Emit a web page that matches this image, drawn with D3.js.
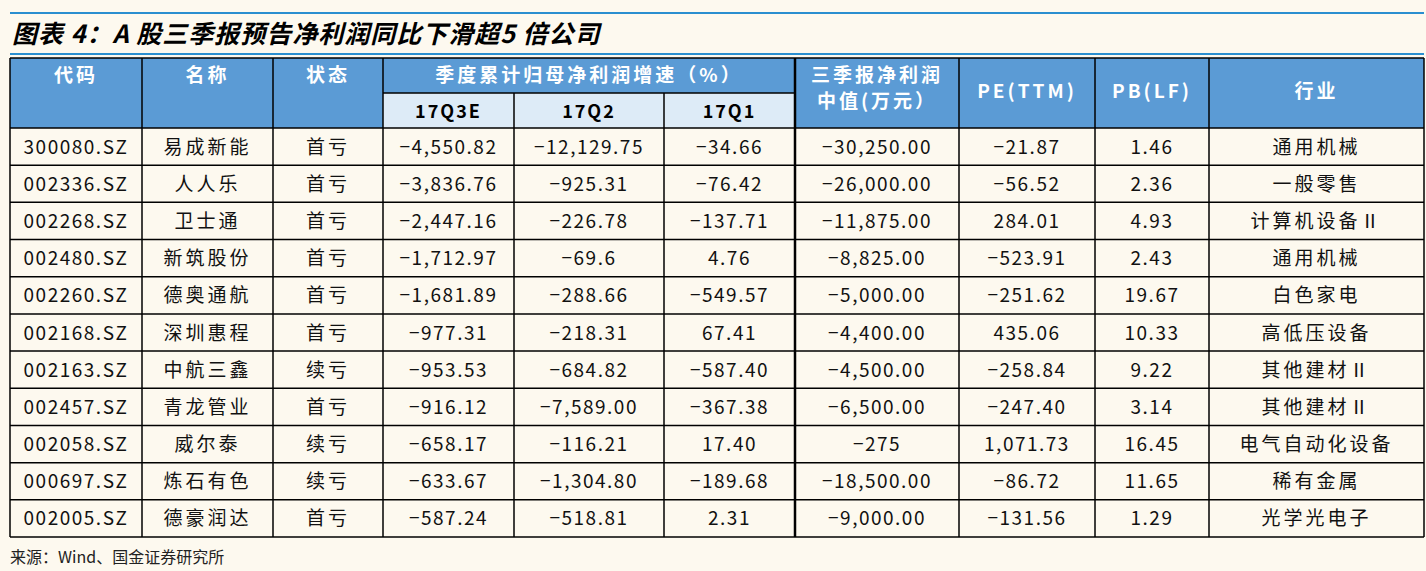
<!DOCTYPE html>
<html><head><meta charset="utf-8">
<script src="https://cdn.jsdelivr.net/npm/d3@7"></script>
<style>body{margin:0;background:#fdf9ef;}svg{display:block}</style></head>
<body><svg id="c" width="1426" height="571"></svg>
<script>
const codes=["300080.SZ","002336.SZ","002268.SZ","002480.SZ","002260.SZ","002168.SZ","002163.SZ","002457.SZ","002058.SZ","000697.SZ","002005.SZ"];
const names=["易成新能","人人乐","卫士通","新筑股份","德奥通航","深圳惠程","中航三鑫","青龙管业","威尔泰","炼石有色","德豪润达"];
const status=["首亏","首亏","首亏","首亏","首亏","首亏","续亏","首亏","续亏","续亏","首亏"];
const q3e=["-4,550.82","-3,836.76","-2,447.16","-1,712.97","-1,681.89","-977.31","-953.53","-916.12","-658.17","-633.67","-587.24"];
const q2=["-12,129.75","-925.31","-226.78","-69.6","-288.66","-218.31","-684.82","-7,589.00","-116.21","-1,304.80","-518.81"];
const q1=["-34.66","-76.42","-137.71","4.76","-549.57","67.41","-587.40","-367.38","17.40","-189.68","2.31"];
const mid=["-30,250.00","-26,000.00","-11,875.00","-8,825.00","-5,000.00","-4,400.00","-4,500.00","-6,500.00","-275","-18,500.00","-9,000.00"];
const pe=["-21.87","-56.52","284.01","-523.91","-251.62","435.06","-258.84","-247.40","1,071.73","-86.72","-131.56"];
const pb=["1.46","2.36","4.93","2.43","19.67","10.33","9.22","3.14","16.45","11.65","1.29"];
const industry=["通用机械","一般零售","计算机设备Ⅱ","通用机械","白色家电","高低压设备","其他建材Ⅱ","其他建材Ⅱ","电气自动化设备","稀有金属","光学光电子"];
const subHeaders=["17Q3E","17Q2","17Q1"];
const colEdges=[10,142,273,383,514,664,795,959,1095,1209,1424];
const columns=[codes,names,status,q3e,q2,q1,mid,pe,pb,industry];

const svg=d3.select("#c");
const F="'Noto Sans CJK SC','DejaVu Sans',sans-serif";
const n=codes.length;
const y=d3.scaleLinear().domain([0,n]).range([128,537]);
const rowH=y(1)-y(0);
svg.append("line").attr("x1",10).attr("x2",1424).attr("y1",13).attr("y2",13).attr("stroke","#2a8fd0").attr("stroke-width",2);
svg.append("line").attr("x1",10).attr("x2",1424).attr("y1",54).attr("y2",54).attr("stroke","#2a8fd0").attr("stroke-width",2);
svg.append("text").attr("x",12).attr("y",43).attr("font-family",F).attr("font-size",25).attr("font-weight","bold").attr("font-style","italic").attr("letter-spacing",1).text("图表 4：A 股三季报预告净利润同比下滑超5 倍公司");
const hb="#5b9bd5";
svg.append("rect").attr("x",10).attr("y",58).attr("width",1414).attr("height",70).attr("fill",hb);
svg.append("rect").attr("x",383).attr("y",93).attr("width",412).attr("height",35).attr("fill","#ddebf7");
const hdr=(t,x,yy)=>svg.append("text").attr("x",x).attr("y",yy).attr("text-anchor","middle").attr("font-family",F).attr("font-size",19).attr("font-weight","bold").attr("letter-spacing",3).attr("fill","#fff").text(t);
const cx=i=>(colEdges[i]+colEdges[i+1])/2;
hdr("代码",cx(0),82);hdr("名称",cx(1),82);hdr("状态",cx(2),82);
hdr("季度累计归母净利润增速（%）",(383+795)/2,82);
hdr("三季报净利润",cx(6),82);hdr("中值(万元）",cx(6),108);
hdr("PE(TTM)",cx(7),98);hdr("PB(LF)",cx(8),98);hdr("行业",cx(9),98);
subHeaders.forEach((s,i)=>svg.append("text").attr("x",cx(3+i)).attr("y",118).attr("text-anchor","middle").attr("font-family",F).attr("font-size",18).attr("font-weight","bold").attr("letter-spacing",2).attr("fill","#000").text(s));
columns.forEach((col,ci)=>{
  svg.selectAll(null).data(col).join("text").attr("x",cx(ci)).attr("y",(d,i)=>y(i)+rowH/2+7)
   .attr("text-anchor","middle").attr("font-family",F).attr("font-size",19).attr("fill","#111").attr("letter-spacing",ci===1||ci===2||ci===9?3:1.5).text(d=>d.replace(/-/g,"−"));
});
const g=svg.append("g").attr("stroke","#000").attr("stroke-width",1.5);
d3.range(n+1).forEach(i=>g.append("line").attr("x1",10).attr("x2",1424).attr("y1",y(i)).attr("y2",y(i)));
g.append("line").attr("x1",10).attr("x2",1424).attr("y1",58).attr("y2",58);
g.append("line").attr("x1",383).attr("x2",795).attr("y1",93).attr("y2",93);
colEdges.forEach((x,i)=>{
  const top=(i===4||i===5)?93:58;
  g.append("line").attr("x1",x).attr("x2",x).attr("y1",top).attr("y2",537).attr("stroke-width",i===6?2.5:1.5);
});
svg.append("text").attr("x",10).attr("y",563).attr("font-family",F).attr("font-size",16).attr("fill","#222").text("来源：Wind、国金证券研究所");
</script></body></html>
